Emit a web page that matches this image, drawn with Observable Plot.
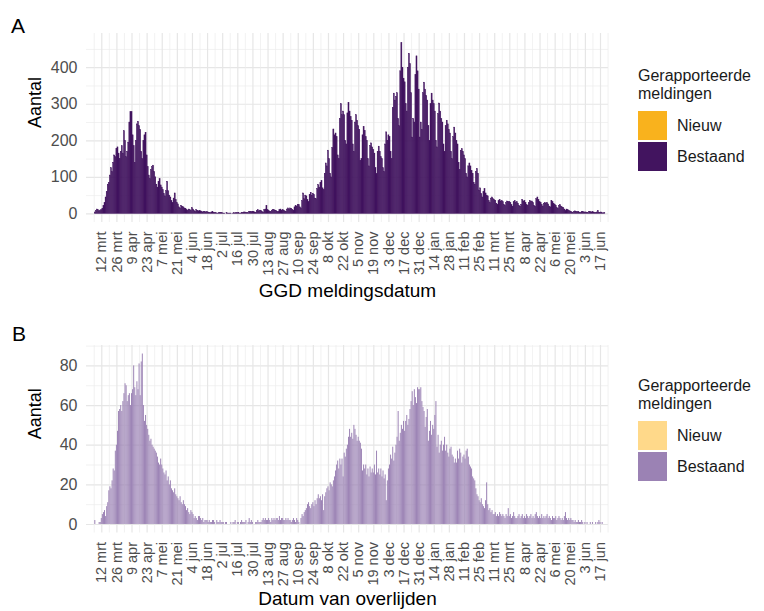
<!DOCTYPE html>
<html>
<head>
<meta charset="utf-8">
<script src="https://cdn.jsdelivr.net/npm/d3@7"></script>
<script src="https://cdn.jsdelivr.net/npm/@observablehq/plot@0.6"></script>
<style>
  body { margin: 0; background: #fff; font-family: "Liberation Sans", Arial, sans-serif; }
  #wrap { position: relative; width: 764px; height: 611px; overflow: hidden; background: #fff; }
  .chart { position: absolute; left: 0; }
  .tag { position: absolute; font-size: 21px; color: #000; line-height: 1; }
  .legtitle { position: absolute; left: 638px; font-size: 16px; line-height: 18px; color: #1a1a1a; }
  .sw { position: absolute; left: 638px; width: 29px; height: 29px; }
  .lab { position: absolute; left: 677px; font-size: 16px; line-height: 16px; color: #1a1a1a; }
  svg [aria-label^="y-axis"] text { font-size: 16px; }
</style>
</head>
<body>
<div id="wrap"></div>
<script>
// first bar date (index 0); each row below = one week, Thursday..Wednesday
const startDate = "2020-02-27";

// Panel A: GGD meldingsdatum (Bestaand)
const valuesA = [
  0,0,0,0,0,0,0,
  0,4,8,12,10,7,9,
  10,14,22,30,45,60,80,
  85,105,125,115,140,160,155,
  178,182,165,150,170,185,165,
  226,200,155,170,195,250,278,
  278,215,185,140,200,245,252,
  240,230,170,150,200,215,222,
  160,128,105,95,120,128,132,
  115,100,80,72,88,95,78,
  72,65,55,48,62,88,62,
  50,45,35,30,42,56,38,
  30,26,18,15,22,20,18,
  15,14,10,8,12,10,8,
  16,12,8,6,10,8,7,
  8,7,5,4,6,5,4,
  5,4,3,2,4,6,3,
  2,2,1,1,2,3,2,
  2,1,1,0,2,1,1,
  1,1,0,1,2,1,2,
  2,3,1,1,3,2,4,
  4,3,2,2,5,6,5,
  6,5,4,3,8,10,7,
  9,8,5,4,10,12,22,
  10,8,6,5,9,11,10,
  9,8,5,6,10,12,9,
  10,9,7,6,12,15,12,
  15,14,10,9,18,22,20,
  25,24,18,15,35,56,40,
  50,48,38,32,52,58,50,
  55,52,42,40,68,79,72,
  85,90,70,65,110,138,130,
  173,150,110,100,180,231,215,
  220,210,160,150,260,300,270,
  280,270,200,190,275,304,280,
  265,255,190,170,250,270,255,
  240,230,145,150,215,238,227,
  210,200,150,130,186,193,182,
  175,165,125,109,170,184,170,
  155,150,125,115,190,223,200,
  215,210,170,150,290,329,310,
  320,330,260,240,390,467,400,
  370,360,300,280,400,438,410,
  330,209,260,250,380,431,390,
  340,209,250,230,330,359,340,
  323,310,240,200,300,329,310,
  300,280,200,182,273,302,280,
  260,250,190,170,240,255,245,
  230,220,170,150,210,236,220,
  200,190,140,120,173,177,170,
  160,150,110,100,130,138,130,
  118,110,85,80,115,123,110,
  64,70,55,45,60,68,56,
  50,48,35,30,42,45,40,
  38,36,28,25,35,38,34,
  35,32,25,22,30,34,32,
  33,30,24,20,32,35,30,
  32,28,22,20,25,38,34,
  35,30,24,22,30,36,32,
  34,30,22,20,40,45,38,
  32,30,24,20,28,30,28,
  30,26,20,18,36,32,28,
  25,22,16,14,22,24,20,
  18,16,12,8,12,10,8,
  7,6,4,3,6,7,5,
  5,5,3,2,5,6,4,
  4,4,3,2,6,5,4,
  5,4,2,2,4,8,3,
  3,4,2,1,3,0,0
];

// Panel B: Datum van overlijden (Bestaand)
const valuesB = [
  0,0,0,0,0,0,0,
  0,2,0,0,0,1,1,
  3,5,6,7,4,9,11,
  17,19,18,22,28,27,37,
  40,47,57,58,60,57,62,
  66,71,70,62,65,66,60,
  66,68,80,69,65,72,68,
  81,65,82,86,60,52,55,
  50,48,45,42,43,40,39,
  38,37,36,34,31,30,33,
  30,28,26,25,27,22,24,
  20,22,18,17,16,18,15,
  14,13,12,14,11,10,12,
  10,9,7,8,6,5,7,
  6,5,3,4,3,2,4,
  4,3,2,3,1,2,2,
  2,1,2,1,1,2,2,
  1,0,2,1,1,2,1,
  1,1,0,1,1,0,0,
  0,1,0,1,1,2,0,
  1,1,0,1,2,1,1,
  1,2,0,1,3,1,2,
  1,0,0,1,1,2,1,
  1,1,2,3,2,3,2,
  2,3,2,1,3,2,3,
  2,3,3,2,4,2,3,
  3,2,2,3,2,3,2,
  2,1,2,3,2,1,3,
  2,1,0,3,5,4,6,
  7,8,10,11,9,8,10,
  11,9,12,10,13,15,13,
  14,12,15,7,14,16,18,
  19,17,21,20,19,22,24,
  27,30,32,28,33,30,33,
  24,36,34,38,40,44,48,
  44,46,43,50,48,45,42,
  44,42,41,38,27,30,28,
  30,25,28,24,29,26,28,
  26,30,25,37,26,28,25,
  28,24,27,23,25,12,22,
  28,30,35,33,39,32,36,
  40,44,57,42,46,50,48,
  52,47,52,55,50,53,58,
  62,67,60,68,64,61,69,
  68,68,69,62,59,57,49,
  54,58,42,47,52,45,50,
  48,55,62,39,45,36,40,
  42,37,40,44,37,40,36,
  34,38,39,35,34,31,33,
  31,37,33,38,36,31,34,
  35,33,37,38,34,30,29,
  28,24,23,22,18,15,14,
  12,11,13,10,9,8,12,
  21,10,7,8,6,7,5,
  5,6,4,5,4,6,5,
  4,5,4,3,5,4,8,
  4,5,3,4,6,4,3,
  3,4,5,3,4,5,3,
  4,3,5,4,3,4,5,
  3,4,3,5,6,4,3,
  4,3,5,3,4,3,4,
  5,3,4,3,2,4,3,
  3,4,2,3,4,3,2,
  3,2,4,6,3,2,3,
  2,3,2,2,1,2,1,
  1,2,1,1,2,1,0,
  1,0,1,0,0,1,0,
  1,0,0,1,0,1,2,
  1,0,1,0,0,0,0
];

const firstTick = "2020-03-12";
const tickLabels = ["12 mrt","26 mrt","9 apr","23 apr","7 mei","21 mei","4 jun","18 jun","2 jul","16 jul","30 jul","13 aug","27 aug","10 sep","24 sep","8 okt","22 okt","5 nov","19 nov","3 dec","17 dec","31 dec","14 jan","28 jan","11 feb","25 feb","11 mrt","25 mrt","8 apr","22 apr","6 mei","20 mei","3 jun","17 jun"];

const series = ["Nieuw", "Bestaand"];
const coloursA = ["#F9B21D", "#42145F"];
const coloursB = ["#FFD98A", "#9B82B4"];
const yTicksA = [0, 100, 200, 300, 400];
const yMinorA = [50, 150, 250, 350, 450];
const yTicksB = [0, 20, 40, 60, 80];
const yMinorB = [10, 30, 50, 70, 90];

const DAY = 864e5;
const t0 = new Date(startDate + "T00:00:00Z").getTime();
const tick0 = new Date(firstTick + "T00:00:00Z").getTime();
const tickDates = tickLabels.map((_, i) => new Date(tick0 + i * 14 * DAY));
const minorDates = [new Date(tick0 - 7 * DAY)].concat(tickDates.map(d => new Date(d.getTime() + 7 * DAY)));
const xDomain = [new Date("2020-02-26T20:00:00Z"), new Date("2021-06-24T10:00:00Z")];

function rows(vals, half) {
  return vals.map((v, i) => ({
    x1: new Date(t0 + (i - half) * DAY),
    x2: new Date(t0 + (i + half) * DAY),
    y: v,
    serie: "Bestaand"
  }));
}
function fmt(d) {
  const i = Math.round((d.getTime() - tick0) / (14 * DAY));
  return tickLabels[i] ?? "";
}

function panel({vals, half, colours, barStroke, yDomain, yTicks, yMinor, xTitle, mTop, height, mBottom, titleDy}) {
  return Plot.plot({
    width: 764,
    height,
    marginLeft: 86,
    marginRight: 156,
    marginTop: mTop,
    marginBottom: mBottom,
    style: {
      fontFamily: '"Liberation Sans", Arial, sans-serif',
      fontSize: "14.5px",
      color: "#4d4d4d",
      background: "transparent",
      overflow: "visible"
    },
    x: {
      type: "utc",
      domain: xDomain,
      ticks: tickDates,
      tickFormat: fmt,
      tickRotate: -90,
      tickSize: 0,
      tickPadding: 9,
      label: null
    },
    y: {
      domain: yDomain,
      ticks: yTicks,
      tickSize: 0,
      tickPadding: 9,
      label: null
    },
    color: { domain: series, range: colours },
    marks: [
      Plot.ruleY(yMinor, { stroke: "#ececec", strokeWidth: 0.7 }),
      Plot.ruleY(yTicks, { stroke: "#e6e6e6", strokeWidth: 1.2 }),
      Plot.ruleX(minorDates, { stroke: "#ececec", strokeWidth: 0.7 }),
      Plot.ruleX(tickDates, { stroke: "#e6e6e6", strokeWidth: 1.2 }),
      Plot.rectY(rows(vals, half), { x1: "x1", x2: "x2", y: "y", fill: "serie", stroke: barStroke, strokeWidth: barStroke ? 0.4 : 0 }),
      Plot.text([xTitle], { text: d => d, frameAnchor: "bottom", dy: titleDy, fontSize: 19, fill: "#000" }),
      Plot.text(["Aantal"], { text: d => d, frameAnchor: "left", dx: -51, rotate: -90, fontSize: 18, fill: "#000" })
    ]
  });
}

const wrap = document.getElementById("wrap");

const svgA = panel({
  vals: valuesA, half: 0.5, colours: coloursA, barStroke: "serie",
  yDomain: [-23.5, 493.5], yTicks: yTicksA, yMinor: yMinorA,
  xTitle: "GGD meldingsdatum", mTop: 33, height: 310, mBottom: 88, titleDy: 74
});
svgA.classList.add("chart"); svgA.style.top = "0px";
wrap.appendChild(svgA);

const svgB = panel({
  vals: valuesB, half: 0.45, colours: coloursB, barStroke: null,
  yDomain: [-4.3, 90.3], yTicks: yTicksB, yMinor: yMinorB,
  xTitle: "Datum van overlijden", mTop: 35, height: 301, mBottom: 78.5, titleDy: 72
});
svgB.classList.add("chart"); svgB.style.top = "310px";
wrap.appendChild(svgB);

function addDiv(cls, text, styles) {
  const d = document.createElement("div");
  d.className = cls;
  if (text) d.textContent = text;
  Object.assign(d.style, styles);
  wrap.appendChild(d);
  return d;
}
addDiv("tag", "A", { left: "11px", top: "15px" });
addDiv("tag", "B", { left: "12px", top: "323px" });

function legend(top, colours) {
  addDiv("legtitle", "Gerapporteerde", { top: (top - 9) + "px" });
  addDiv("legtitle", "meldingen", { top: (top + 9) + "px" });
  series.forEach((s, i) => {
    const y = top + 35 + i * 31;
    addDiv("sw", "", { top: y + "px", background: colours[i] });
    addDiv("lab", s, { top: (y + 7) + "px" });
  });
}
legend(76, coloursA);
legend(386, coloursB);
</script>
</body>
</html>
